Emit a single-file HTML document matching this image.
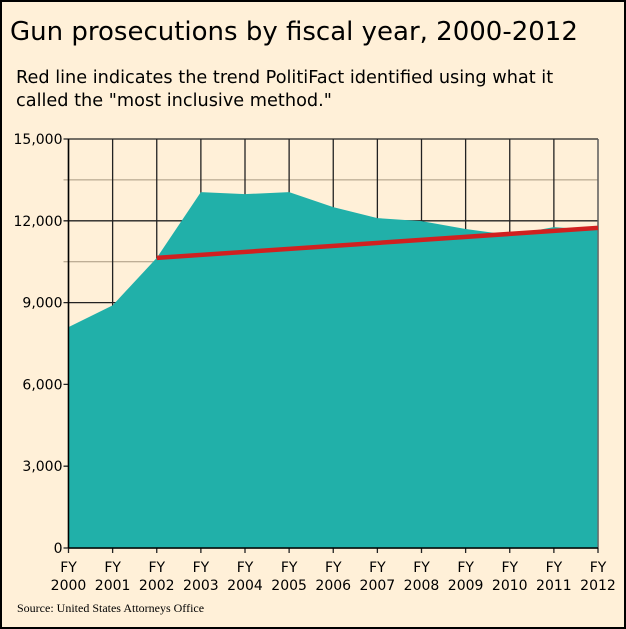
<!DOCTYPE html>
<html><head><meta charset="utf-8"><style>
body{margin:0;background:#fff0d8;}
svg{display:block;font-family:"DejaVu Sans","Liberation Sans",sans-serif;}
</style></head><body>
<svg id="chart" width="626" height="629">
<rect x="1" y="1" width="624" height="627" fill="#fff0d8" stroke="#000" stroke-width="2"/>
<text x="10" y="40" font-size="26" fill="#000">Gun prosecutions by fiscal year, 2000-2012</text>
<text x="16" y="83" font-size="17.7" fill="#000">Red line indicates the trend PolitiFact identified using what it</text>
<text x="16" y="106" font-size="17.7" fill="#000">called the "most inclusive method."</text>
<g id="plot"></g>
<text x="17" y="612" font-size="12" font-family="Liberation Serif,serif" fill="#000">Source: United States Attorneys Office</text>
</svg>
<script>
const years=["2000","2001","2002","2003","2004","2005","2006","2007","2008","2009","2010","2011","2012"];
const values=[8100,8900,10640,13050,12980,13050,12500,12100,11990,11700,11480,11770,11660];
const trendYears=["2002","2012"];
const trendValues=[10640,11740];
const yTicks=[0,3000,6000,9000,12000,15000];
const yTickLabels=["0","3,000","6,000","9,000","12,000","15,000"];
const minorGrid=[10500,13500];
const NS="http://www.w3.org/2000/svg";
const L=68.5,R=598,T=139,B=548,maxV=15000;
const x=i=>L+(R-L)*i/(years.length-1);
const xy=y=>x(years.indexOf(y));
const y=v=>B-(B-T)*v/maxV;
const g=document.getElementById('plot');
function mk(tag,attrs){const e=document.createElementNS(NS,tag);for(const k in attrs)e.setAttribute(k,attrs[k]);g.appendChild(e);return e;}
minorGrid.forEach(v=>{const l=mk('line',{x1:L-5,x2:R,y1:y(v),y2:y(v),stroke:'#a89880','stroke-width':1});

});
yTicks.forEach((v,i)=>{const l=mk('line',{x1:L-5,x2:R,y1:y(v),y2:y(v),stroke:'#222','stroke-width':1.3});


const t=mk('text',{x:L-6,y:y(v)+5,'text-anchor':'end','font-size':14});t.textContent=yTickLabels[i];

});
years.forEach((yr,i)=>{const l=mk('line',{x1:x(i),x2:x(i),y1:T,y2:B+5,stroke:'#222','stroke-width':1.3});


const t=mk('text',{x:x(i),y:B+24,'text-anchor':'middle','font-size':14});t.textContent='FY';


const t2=mk('text',{x:x(i),y:B+42,'text-anchor':'middle','font-size':14});t2.textContent=yr;

});
let d='M'+x(0)+','+B;values.forEach((v,i)=>d+=' L'+x(i)+','+y(v));d+=' L'+x(values.length-1)+','+B+' Z';
const a=mk('path',{d:d,fill:'#21b0a9'});


const rl=mk('line',{x1:L,x2:L,y1:T,y2:B,stroke:'#000','stroke-width':1.5});


const rr=mk('line',{x1:R,x2:R,y1:T,y2:B,stroke:'#666','stroke-width':1.3});


const bl=mk('line',{x1:L,x2:R,y1:B,y2:B,stroke:'#000','stroke-width':1.5});


const tr=mk('line',{x1:xy(trendYears[0]),y1:y(trendValues[0]),x2:xy(trendYears[1]),y2:y(trendValues[1]),stroke:'#d02020','stroke-width':4.5});


</script>
</body></html>
